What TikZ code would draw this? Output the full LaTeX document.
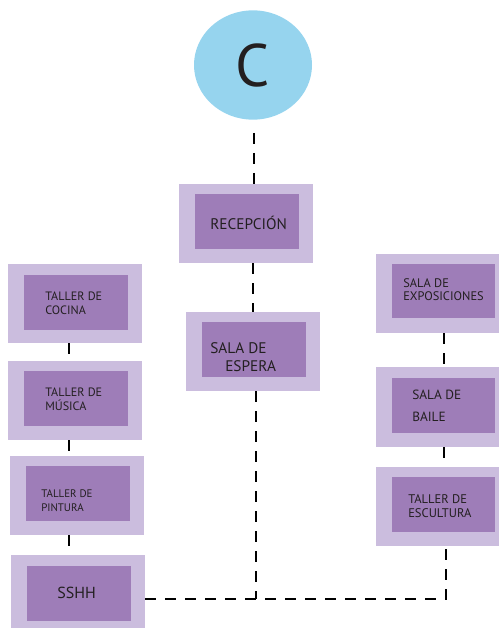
\documentclass[tikz,border=0pt]{standalone}
\usepackage{fontspec}
\setmainfont{PT Sans}
\usetikzlibrary{fit,shapes.geometric}
\definecolor{outerc}{HTML}{CBBDDE}
\definecolor{innerc}{HTML}{9E7DB8}
\definecolor{circc}{HTML}{96D4EE}
\definecolor{txtc}{HTML}{231F20}
\begin{document}
\begin{tikzpicture}[x=0.75pt,y=-0.75pt,
  outerbox/.style={fill=outerc, draw=none, inner sep=0pt},
  innerbox/.style={fill=innerc, draw=none, inner sep=0pt},
  lbl/.style={anchor=base west, inner sep=0pt, text=txtc},
  conn/.style={draw=black, line width=1.4pt, dash pattern=on 8pt off 7pt}]
\useasboundingbox (0,0) rectangle (499,629);
% circle
\node[ellipse, fill=circc, draw=none, minimum width=88.5pt, minimum height=82pt, inner sep=0pt,
  text=txtc, font=\fontsize{45}{45}\selectfont] (circ) at (253,65) {C};
% center column
\node[outerbox, fit={(179,184)(313,263)}] (rec) {};
\node[innerbox, fit={(195,194)(299,249)}] (reci) {};
\node[lbl, font=\fontsize{11.5}{13}\selectfont] (trec) at (210,229) {RECEPCIÓN};
\node[outerbox, fit={(186,312)(320,391)}] (esp) {};
\node[innerbox, fit={(202,322)(306,377)}] (espi) {};
\node[lbl, font=\fontsize{11.5}{13}\selectfont] (tespa) at (210,353) {SALA DE};
\node[lbl, font=\fontsize{11.5}{13}\selectfont] (tespb) at (225,371) {ESPERA};
% left column
\node[outerbox, fit={(8,264)(142,343)}] (coc) {};
\node[innerbox, fit={(24,275)(128,330)}] (coci) {};
\node[lbl, font=\fontsize{9.1}{11}\selectfont] (tcoca) at (45,300.5) {TALLER DE};
\node[lbl, font=\fontsize{9.1}{11}\selectfont] (tcocb) at (45,314.5) {COCINA};
\node[outerbox, fit={(8,361)(142,440)}] (mus) {};
\node[innerbox, fit={(24,371)(128,426)}] (musi) {};
\node[lbl, font=\fontsize{9.1}{11}\selectfont] (tmusa) at (45,396) {TALLER DE};
\node[lbl, font=\fontsize{9.1}{11}\selectfont] (tmusb) at (45,410.5) {MÚSICA};
\node[outerbox, fit={(10,456)(144,535)}] (pin) {};
\node[innerbox, fit={(26,466)(130,521)}] (pini) {};
\node[lbl, font=\fontsize{8.2}{10}\selectfont] (tpina) at (41,497) {TALLER DE};
\node[lbl, font=\fontsize{8.2}{10}\selectfont] (tpinb) at (41,511) {PINTURA};
\node[outerbox, fit={(11,555)(145,628)}] (ssh) {};
\node[innerbox, fit={(27,566)(131,621)}] (sshi) {};
\node[lbl, font=\fontsize{12}{14}\selectfont] (tssh) at (57,598) {SSHH};
% right column
\node[outerbox, fit={(376,254)(499,333)}] (exp) {};
\node[innerbox, fit={(392,264)(495,318)}] (expi) {};
\node[lbl, font=\fontsize{9.3}{11}\selectfont] (texpa) at (403,287) {SALA DE};
\node[lbl, font=\fontsize{9.3}{11}\selectfont] (texpb) at (403,300.5) {EXPOSICIONES};
\node[outerbox, fit={(376,367)(499,447)}] (bai) {};
\node[innerbox, fit={(392,378)(495,433)}] (baii) {};
\node[lbl, font=\fontsize{10}{12}\selectfont] (tbaia) at (412,399) {SALA DE};
\node[lbl, font=\fontsize{10}{12}\selectfont] (tbaib) at (412,421) {BAILE};
\node[outerbox, fit={(376,467)(499,546)}] (esc) {};
\node[innerbox, fit={(392,477)(495,532)}] (esci) {};
\node[lbl, font=\fontsize{9.4}{11}\selectfont] (tesca) at (408,503) {TALLER DE};
\node[lbl, font=\fontsize{9.4}{11}\selectfont] (tescb) at (408,517) {ESCULTURA};
% helper coordinates
\coordinate (lx) at (69,0);
\coordinate (rx) at (444,0);
\coordinate (cx) at (254,0);
\coordinate (j) at (256,599);
\coordinate (k) at (446,599);
% connectors
\draw[conn] (circ.south -| cx) ++(0,13) -- (rec.north -| cx);
\draw[conn] (rec.south -| esp.north) -- (esp.north);
\draw[conn] (coc.south -| lx) -- (mus.north -| lx);
\draw[conn] (mus.south -| lx) -- (pin.north -| lx);
\draw[conn] (pin.south -| lx) -- (ssh.north -| lx);
\draw[conn] (exp.south -| rx) -- (bai.north -| rx);
\draw[conn] (bai.south -| rx) -- (esc.north -| rx);
\draw[conn] (esp.south -| j) -- (j);
\draw[conn] (ssh.east |- j) -- (j) -- (k) -- (esc.south -| k);
\end{tikzpicture}
\end{document}
